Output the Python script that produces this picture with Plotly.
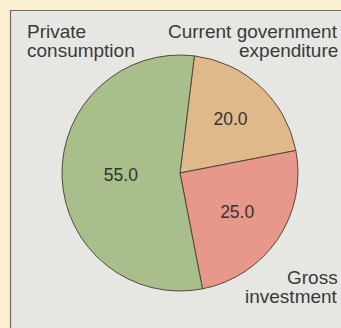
import plotly.graph_objects as go

categories = ["Current government expenditure", "Gross investment", "Private consumption"]
values = [20.0, 25.0, 55.0]
colors = ["#e0b98a", "#e8978b", "#a9bf8b"]

# Outside label text, one entry per line
label_lines = {
    "Private consumption": ["Private", "consumption"],
    "Current government expenditure": ["Current government", "expenditure"],
    "Gross investment": ["Gross", "investment"],
}

W, H = 341, 328

fig = go.Figure()
fig.add_trace(go.Pie(
    labels=categories,
    values=values,
    sort=False,
    direction="clockwise",
    rotation=7,
    marker=dict(colors=colors, line=dict(color="#55473b", width=1)),
    texttemplate="%{value:.1f}",
    textposition="inside",
    insidetextorientation="horizontal",
    textfont=dict(family="Liberation Sans, Arial, sans-serif", size=17.5, color="#333333"),
    hoverinfo="label+value",
    showlegend=False,
    domain=dict(x=[62 / W, 298 / W], y=[1 - 291 / H, 1 - 55 / H]),
))

font = dict(family="Liberation Sans, Arial, sans-serif", size=19, color="#3a3a3a")

def line_ann(text, xpx, ypx, anchor):
    return dict(text=text, xref="paper", yref="paper", x=xpx / W, y=1 - ypx / H,
                xanchor=anchor, yanchor="middle", showarrow=False, font=font)

anns = []
pl = label_lines["Private consumption"]
anns.append(line_ann(pl[0], 25, 31.5, "left"))
anns.append(line_ann(pl[1], 25, 50.5, "left"))
cg = label_lines["Current government expenditure"]
anns.append(line_ann(cg[0], 340, 31.5, "right"))
anns.append(line_ann(cg[1], 340, 50.5, "right"))
gi = label_lines["Gross investment"]
anns.append(line_ann(gi[0], 340, 277, "right"))
anns.append(line_ann(gi[1], 340, 296, "right"))

fig.update_layout(
    width=W, height=H,
    margin=dict(l=0, r=0, t=0, b=0),
    paper_bgcolor="#fbefd0",
    plot_bgcolor="#fbefd0",
    shapes=[dict(type="rect", xref="paper", yref="paper",
                 x0=10.5 / W, x1=1.05, y0=-0.05, y1=1 - 10.5 / H,
                 fillcolor="#e6e6e3", line=dict(color="#6a6a6a", width=1.2), layer="below")],
    annotations=anns,
)

fig.write_html("out.html")
